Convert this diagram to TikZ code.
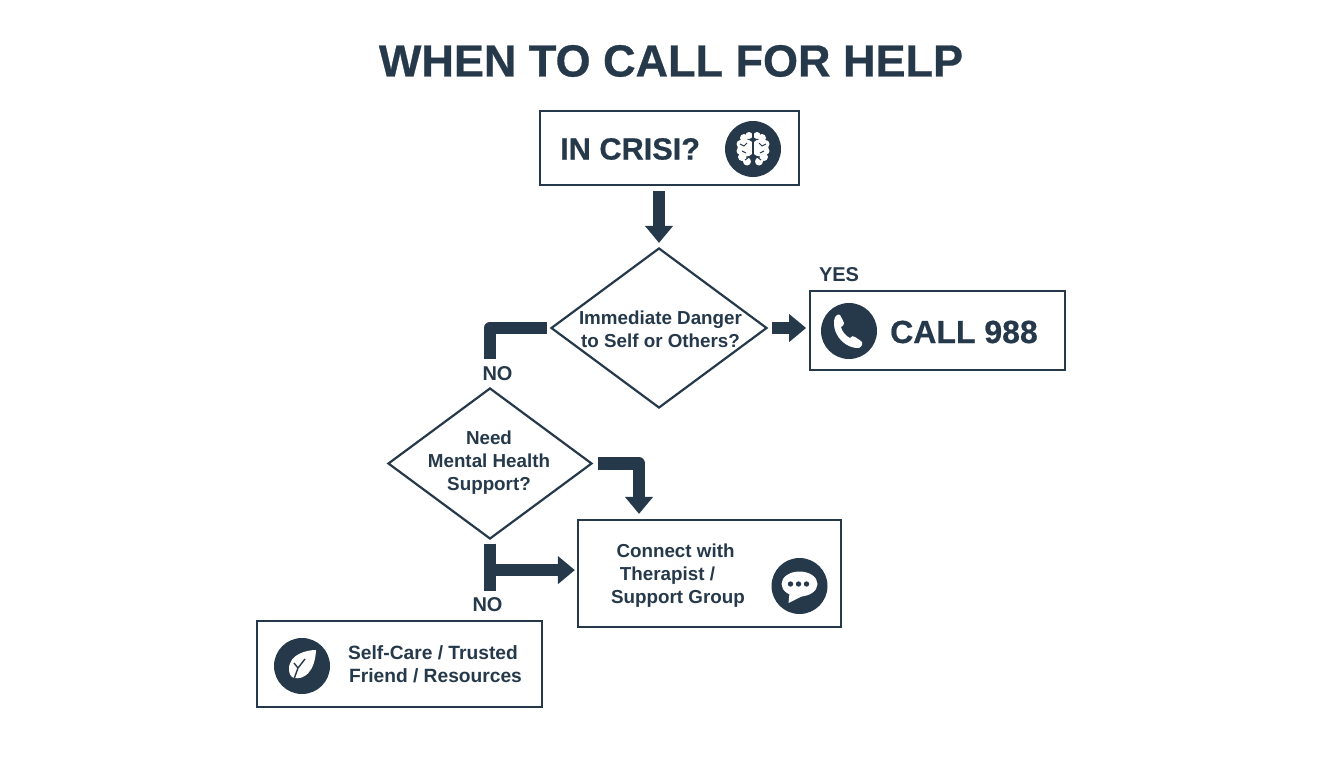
\documentclass[tikz,border=0pt]{standalone}
\usepackage{fontspec}
\setmainfont{Liberation Sans}
\newfontfamily\heavyfont[FakeBold=0.6]{Liberation Sans Bold}
\usetikzlibrary{positioning}
\usetikzlibrary{arrows.meta}
\usetikzlibrary{shapes.geometric}
\usetikzlibrary{calc}
\definecolor{ink}{HTML}{25394B}
\begin{document}
\begin{tikzpicture}[x=1pt,y=-1pt,every node/.style={text=ink,font=\bfseries}]

\tikzstyle{box}=[rectangle,draw=ink,line width=2.2pt,inner sep=0pt]
\tikzstyle{decision}=[diamond,draw=ink,line width=2.2pt,inner sep=0pt,aspect=1.35]
\tikzstyle{icon}=[circle,fill=ink,minimum size=56pt,inner sep=0pt]
\tikzstyle{answer}=[font=\fontsize{20}{24}\selectfont\bfseries]
\tikzstyle{label}=[font=\fontsize{18.8}{23}\selectfont\bfseries,align=center]
\tikzstyle{flow}=[draw=ink,line width=12.5pt,-{Triangle[width=27pt,length=17pt]},line join=round]
\tikzstyle{stub}=[draw=ink,line width=12.5pt,line join=round]

\useasboundingbox[fill=white] (0,0) rectangle (1344,768);

\node (title) at (671,61) {\fontsize{45}{54}\selectfont\heavyfont WHEN TO CALL FOR HELP};

\node[box,minimum width=259pt,minimum height=74pt] (crisis) at (669.5,148) {};
\node[decision,minimum width=216pt,minimum height=160pt] (danger) at (659,328) {};
\node[box,minimum width=255pt,minimum height=79pt,right=41pt of danger.east,yshift=-2.5pt,anchor=west] (call) {};
\node[decision,minimum width=204pt,minimum height=151pt] (need) at (490,463.5) {};
\node[box,minimum width=263pt,minimum height=107pt] (connect) at (709.5,573.5) {};
\node[box,minimum width=285pt,minimum height=86pt] (selfcare) at (399.5,664) {};

\node[font=\fontsize{30.7}{38}\selectfont\heavyfont,anchor=west,inner sep=0pt] (crisistext) at (560,149) {IN CRISI?};
\node[font=\fontsize{32}{38}\selectfont\heavyfont,anchor=west,inner sep=0pt] (calltext) at (890,332) {CALL 988};
\node[label] (dangertext) at (660.5,329) {Immediate Danger\\to Self or Others?};
\node[label] (needtext) at (489,463) {Need\\Mental Health\\Support?};
\node[label] (connecttext) at (678,576) {Connect with\rule{5pt}{0pt}\\Therapist /\rule{21pt}{0pt}\\Support Group};
\node[label,font=\fontsize{19.2}{23}\selectfont\bfseries] (selfcaretext) at (435.5,664) {Self-Care / Trusted\rule{5pt}{0pt}\\Friend / Resources};

\node[answer] (yes) at (839,275) {YES};
\node[answer] (no1) at (497.5,374) {NO};
\node[answer] (no2) at (487.5,605) {NO};

\node[icon] (brain) at (753,149) {};
\node[icon] (phone) at (849,331) {};
\node[icon] (chat) at (799.5,586) {};
\node[icon] (leaf) at (302,666) {};

% brain
\begin{scope}[shift={(brain.center)}]
\foreach \s in {-1,1}{
  \begin{scope}[xscale=\s]
  \fill[white] (4,-13.5) circle (3.5) (9,-11) circle (4) (12.5,-5) circle (4) (13,2) circle (3.5) (11,8) circle (4) (6,12.5) circle (4) (7,-1) circle (8.5);
  \draw[ink,line width=1pt] (6,-6) -- (9,-3) -- (13,-5) (7,4) -- (11,2) (4,8) -- (8,11);
  \end{scope}
}
\draw[ink,line width=1.6pt] (0,-19) -- (0,19);
\end{scope}

% phone
\begin{scope}[shift={(phone.center)}]
\fill[white] (-14,-14) .. controls (-11,-17) and (-10,-17) .. (-9,-16)
  .. controls (-7,-13) and (-6,-10) .. (-5,-8)
  .. controls (-5,-6) and (-6,-5) .. (-8,-4)
  .. controls (-7,1) and (-3,5) .. (1,7)
  .. controls (3,5) and (4,4.5) .. (6,6)
  .. controls (9,8) and (11,9) .. (13,11)
  .. controls (14,13) and (13,15) .. (10,17)
  .. controls (0,18) and (-16,8) .. (-15,-10)
  -- cycle;
\end{scope}

% chat
\begin{scope}[shift={(chat.center)}]
\fill[white] (0,-2) ellipse (18 and 12.5);
\fill[white] (-10,7) -- (-11,17) -- (5,9) -- cycle;
\foreach \x in {-9,-1,7}{\fill[ink] (\x,-2) circle (2.7);}
\end{scope}

% leaf
\begin{scope}[shift={(leaf.center)}]
\fill[white] (14,-16) .. controls (5,-16) and (-13,-12) .. (-13,3)
  .. controls (-13,8) and (-11,11) .. (-8,12)
  .. controls (2,14) and (13,6) .. (14,-16) -- cycle;
\draw[ink,line width=1.4pt] (-8,13) -- (-4,2) (-4,2) -- (-8,-3) (-4,2) -- (3,-7);
\end{scope}

\coordinate (stopone) at ($(danger.north)+(0,-4)$);
\coordinate (intothis) at ($(connect.north)+(-70.5,-5)$);
\coordinate (stubend) at ($(need.south)+(0,51)$);
\coordinate (branch) at ($(need.south)+(0,30)$);

\draw[flow,shorten <=5pt] (crisis.south -| danger.north) -- (stopone);
\draw[flow,shorten <=4pt,shorten >=3pt] (danger.east) -- (danger.east -| call.west);
\draw[stub,shorten <=3pt,shorten >=28pt] (danger.west) -| (need.north);
\draw[flow,shorten <=5pt] (need.east) -| (intothis);
\draw[stub,shorten <=4pt] (need.south) -- (stubend);
\draw[flow,line width=12pt,shorten >=2pt] (branch) -- (branch -| connect.west);

\end{tikzpicture}
\end{document}
